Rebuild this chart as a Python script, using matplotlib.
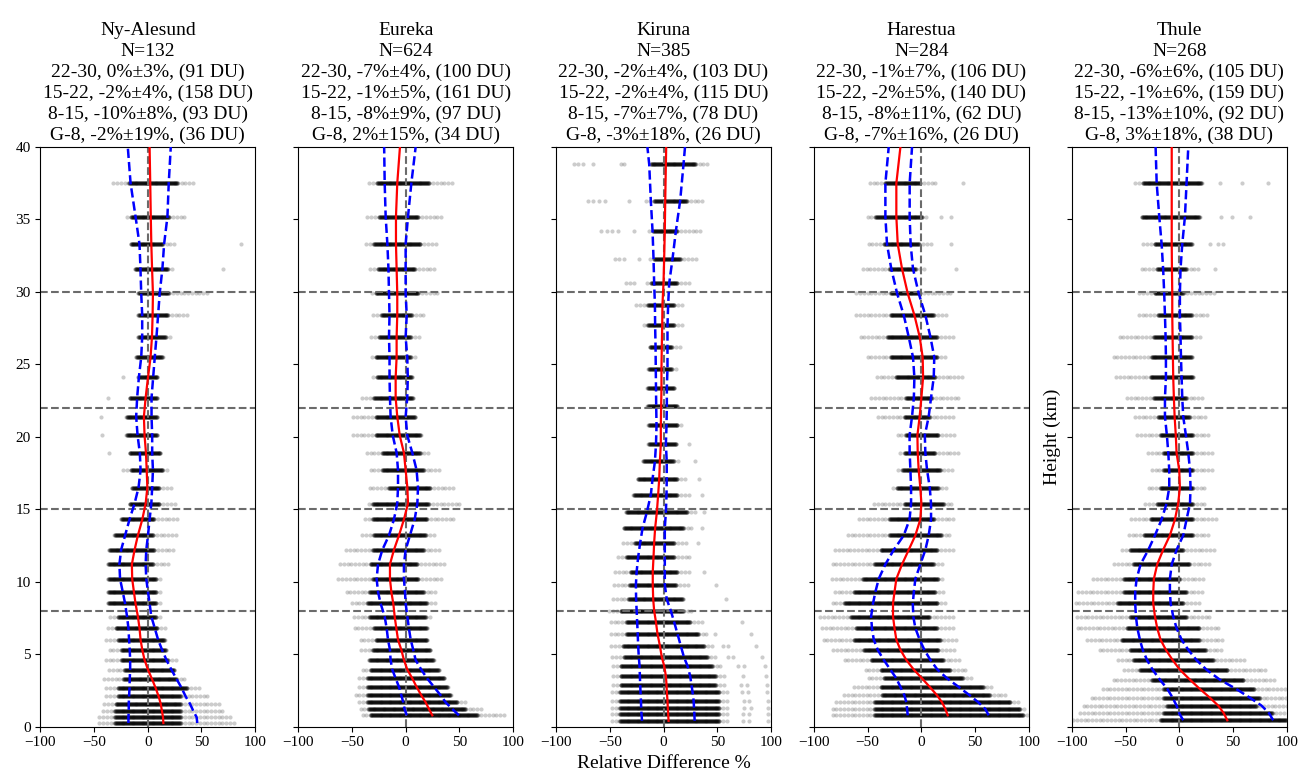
import numpy as np
import matplotlib.pyplot as plt

plt.rcParams['font.family'] = ['Liberation Serif', 'DejaVu Serif']

stations = ['Ny-Alesund', 'Eureka', 'Kiruna', 'Harestua', 'Thule']
n_profiles = [132, 624, 385, 284, 268]
layer_names = ['22-30', '15-22', '8-15', 'G-8']
layer_mean = [[0, -2, -10, -2], [-7, -1, -8, 2], [-2, -2, -7, -3], [-1, -2, -8, -7], [-6, -1, -13, 3]]
layer_std = [[3, 4, 8, 19], [4, 5, 9, 15], [4, 4, 7, 18], [7, 5, 11, 16], [6, 6, 10, 18]]
layer_du = [[91, 158, 93, 36], [100, 161, 97, 34], [103, 115, 78, 26], [106, 140, 62, 26], [105, 159, 92, 38]]
layer_bounds = [8, 15, 22, 30]
line_top = 40

# retrieval levels (km) above ~4 km are shared by most sites
upper_grid = [3.93, 4.6, 5.3, 6.0, 6.8, 7.6, 8.5, 9.3, 10.2, 11.2, 12.2, 13.2, 14.3, 15.4, 16.5,
              17.7, 18.9, 20.1, 21.4, 22.7, 24.1, 25.5, 26.9, 28.4, 29.9, 31.6, 33.3, 35.2, 37.5]

# ---- Ny-Alesund ----
ny_height = [0.25, 0.64, 1.08, 1.59, 2.09, 2.67, 3.29] + upper_grid
ny_median = [14.5, 14.2, 13.2, 12.0, 10.1, 7.3, 3.9, 0.2, -3.0, -5.1, -6.7, -7.7, -9.2, -11.4, -12.9, -14.5,
             -14.8, -12.3, -9.2, -5.1, -2.0, -0.4, -1.0, -1.7, -3.0, -3.6, -2.0, 0.2, 2.6, 3.9, 4.5, 4.8,
             4.0, 3.3, 2.8, 2.3, 1.7]
ny_lower = [-18, -18, -17.7, -17.7, -17.4, -17, -16.8, -16.4, -16.4, -16.8, -17.4, -18, -19.3, -21.1, -23.3,
            -25.8, -26.4, -24.8, -21.1, -17, -12.3, -8.6, -6.7, -7.4, -9.5, -10.8, -9.9, -8.3, -6.1, -5.2,
            -5.2, -6.1, -6.8, -7.7, -11.4, -16, -18.6]
ny_upper = [46.1, 45.5, 42.4, 39.2, 35.2, 31.5, 26.8, 22.0, 17.4, 13.3, 9.6, 6.5, 3.3, 1.7, 0.2, -1.4, -2.0,
            -1.4, 0.2, 1.7, 3.3, 4.1, 4.8, 4.1, 4.1, 3.5, 3.5, 5.0, 6.5, 8.1, 9.6, 11.1, 13.6, 15.2, 18.3,
            19.5, 21.4]
ny_core = [(-31, 31), (-31, 31), (-31, 31), (-30, 31), (-28, 31), (-28, 37), (-23, 27), (-22, 25), (-25, 19),
           (-25, 17), (-28, 16), (-30, 9), (-28, 8), (-37, 8), (-37, 8), (-37, 8), (-37, 5), (-36, 6),
           (-31, 5), (-25, 6), (-17, 11), (-15, 11), (-16, 14), (-17, 12), (-20, 9), (-20, 9), (-17, 9),
           (-9, 9), (-11, 14), (-9, 17), (-9, 19), (-9, 20), (-12, 19), (-16, 14), (-16, 20), (-18, 28)]
ny_tail = [(-47, 80), (-46, 78), (-44, 70), (-42, 66), (-41, 58), (-41, 48), (-41, 37), (-39, 28), (-39, 28),
           (-38, 17), (-39, 17), (-38, 16), (-37, 12), (-37, 12), (-37, 12), (-37, 13), (-37, 19), (-36, 25),
           (-31, 28), (-25, 30), (-17, 28), (-15, 23), (-25, 18), (-17, 12), (-20, 9), (-20, 9), (-17, 9),
           (-9, 9), (-11, 14), (-10, 22), (-9, 37), (-11, 55), (-12, 25), (-17, 25), (-20, 34), (-32, 44)]
ny_outliers = [(18.9, -36), (20.1, -43), (21.4, -44), (22.7, -37), (24.1, -23), (31.6, 70), (33.3, 87)]

# ---- Eureka ----
eu_height = [0.78, 1.22, 1.68, 2.16, 2.74, 3.33] + upper_grid
eu_median = [24.8, 21.7, 18.6, 14.6, 10.2, 6.2, 1.6, -1.6, -4.0, -7.1, -8.7, -10.2, -11.5, -13.3, -14.6,
             -14.6, -10.9, -6.2, -1.6, 2.2, 1.6, 0.0, -1.6, -5.5, -7.8, -9.3, -9.3, -8.4, -8.4, -7.8, -7.8,
             -8.4, -9.0, -9.0, -7.8, -5.3]
eu_lower = [1.0, -1.0, -2.2, -4.0, -6.2, -9.3, -12.4, -14.0, -14.6, -16.4, -17.7, -19.5, -23.3, -25.7, -27.0,
            -25.7, -21.7, -15.5, -10.9, -7.8, -7.1, -7.1, -8.4, -12.0, -14.0, -14.6, -15.0, -15.0, -15.5,
            -15.0, -15.5, -16.0, -17.0, -18.6, -19.5, -20.0]
eu_upper = [49.6, 43.4, 37.2, 32.6, 26.4, 20.0, 14.6, 9.3, 7.1, 4.7, 3.0, 1.6, 0.0, -0.6, -1.6, -1.6, 0.0,
            4.0, 8.4, 10.9, 11.5, 10.2, 6.2, 1.5, 0.0, 1.5, 2.0, 1.5, 0.0, 1.0, 0.0, 0.0, 0.0, 2.2, 5.3, 9.3]
eu_core = [(-33, 67), (-35, 56), (-36, 48), (-36, 42), (-36, 39), (-36, 36), (-33, 31), (-34, 26), (-31, 23),
           (-28, 20), (-30, 20), (-34, 19), (-36, 20), (-34, 17), (-31, 12), (-33, 11), (-31, 17), (-30, 19),
           (-31, 20), (-31, 22), (-16, 23), (-22, 17), (-22, 14), (-28, 14), (-28, 9), (-30, 7), (-27, 6),
           (-28, 5), (-25, 5), (-23, 6), (-28, 12), (-26, 9), (-30, 14), (-25, 12), (-27, 22)]
eu_tail = [(-42, 93), (-45, 73), (-45, 57), (-47, 45), (-45, 40), (-45, 36), (-42, 31), (-34, 26), (-42, 23),
           (-45, 20), (-48, 23), (-50, 25), (-53, 27), (-57, 29), (-64, 36), (-64, 36), (-57, 34), (-42, 29),
           (-40, 46), (-36, 51), (-36, 45), (-35, 33), (-36, 23), (-50, 15), (-50, 9), (-43, 7), (-32, 9),
           (-34, 11), (-33, 14), (-33, 17), (-34, 30), (-35, 27), (-37, 28), (-38, 34), (-37, 45)]
eu_outliers = []

# ---- Kiruna ----
ki_height = [0.4, 0.9, 1.3, 1.8, 2.4, 2.9, 3.5, 4.2, 4.8, 5.6, 6.4, 7.2, 8.0, 8.8, 9.8, 10.7, 11.7, 12.7,
             13.7, 14.8, 16.0, 17.1, 18.3, 19.5, 20.8, 22.1, 23.4, 24.7, 26.2, 27.7, 29.1, 30.6, 32.3, 34.2,
             36.3, 38.8]
ki_median = [4.7, 4.3, 4.0, 3.7, 3.1, 2.8, 2.2, 0.6, -1.6, -3.4, -5.6, -7.0, -8.7, -9.6, -10.0, -10.0, -9.3,
             -8.7, -7.8, -6.2, -5.0, -4.0, -3.4, -2.5, -2.5, -2.2, -1.9, -1.9, -1.6, -1.2, -1.0, 0.0, 0.6,
             1.2, 1.6, 2.2, 2.5]
ki_lower = [-20, -20.5, -20.8, -21, -21.4, -21.7, -22, -22.3, -23, -23.6, -24, -24.5, -25, -25.5, -25.7, -25,
            -23.6, -21.7, -19.5, -15.5, -11.8, -10.2, -8, -7, -6.5, -6.8, -7, -7.2, -7.4, -7.8, -8, -8.7,
            -9.3, -10.2, -11.8, -13.3, -15]
ki_upper = [29, 28.7, 28.4, 28, 27, 26, 24.8, 22.3, 19, 16, 13, 10, 6.8, 3, 1.2, 1.2, 1.2, 1.2, 1.2, 2.2,
            2.8, 3, 3, 2.2, 2.8, 3.1, 3.1, 3.7, 3.7, 3.7, 4.3, 5.3, 8.4, 11.5, 15.5, 18.6, 20]
ki_core = [(-41, 52), (-41, 52), (-41, 52), (-41, 52), (-41, 52), (-40, 49), (-40, 49), (-40, 46), (-37, 41),
           (-38, 38), (-35, 33), (-35, 25), (-40, 19), (-33, 18), (-32, 12), (-31, 13), (-35, 10), (-27, 10),
           (-37, 19), (-35, 22), (-28, 13), (-24, 13), (-19, 10), (-14, 12), (-14, 13), (-15, 13), (-15, 10),
           (-14, 8), (-13, 8), (-15, 10), (-15, 10), (-12, 13), (-9, 16), (-10, 13), (-9, 22), (-12, 30)]
ki_tail = [(-50, 61), (-50, 61), (-50, 61), (-50, 61), (-50, 60), (-50, 58), (-50, 56), (-49, 55), (-49, 48),
           (-50, 45), (-52, 42), (-52, 37), (-52, 27), (-50, 20), (-47, 25), (-46, 25), (-44, 25), (-40, 22),
           (-38, 27), (-35, 30), (-29, 24), (-24, 20), (-19, 14), (-14, 14), (-14, 19), (-15, 13), (-15, 10),
           (-14, 13), (-15, 16), (-20, 18), (-28, 19), (-18, 24), (-15, 30), (-15, 36), (-16, 38), (-15, 41)]
ki_outliers = [(0.4, 74), (0.4, 80), (0.4, 97), (0.9, 74), (0.9, 80), (0.9, 97), (1.3, 75), (1.3, 81),
               (1.3, 97), (1.8, 75), (1.8, 80), (1.8, 97), (2.4, 73), (2.4, 79), (2.4, 96), (2.9, 72),
               (2.9, 78), (2.9, 96), (3.5, 74), (3.5, 95), (4.2, 69), (4.2, 75), (4.2, 94), (4.8, 60),
               (4.8, 65), (4.8, 92), (5.6, 55), (5.6, 60), (5.6, 86), (6.4, 48), (6.4, 81), (7.2, 73),
               (8.8, 58), (9.8, 49), (10.7, 38), (12.7, 32), (13.7, 36), (14.8, 38), (16.0, 36), (17.1, 33),
               (18.3, 29), (19.5, 24), (30.6, -35), (30.6, -31), (30.6, -27), (32.3, -45), (32.3, -41),
               (32.3, -37), (32.3, -23), (34.2, -58), (34.2, -53), (34.2, -48), (34.2, -42), (34.2, -27),
               (36.3, -70), (36.3, -66), (36.3, -60), (36.3, -54), (36.3, -32), (38.8, -83), (38.8, -80),
               (38.8, -75), (38.8, -66), (38.8, -40), (38.8, -37)]

# ---- Harestua ----
ha_height = [0.78, 1.22, 1.68, 2.16, 2.74, 3.33] + upper_grid
ha_median = [24.5, 22.3, 19.2, 14.6, 7.8, 0.6, -7.0, -14.0, -19.5, -23.3, -25.0, -26.4, -26.4, -25.0, -23.3,
             -18.0, -11.8, -5.6, -1.0, 0.0, -1.0, -2.5, -3.4, -3.7, -1.6, 0.0, 1.6, 1.2, -1.6, -6.5, -12.7,
             -18.0, -22.0, -23.3, -23.3, -19.5]
ha_lower = [-12.7, -13.3, -14.0, -15.8, -19.5, -23.3, -28.8, -35.0, -40.6, -44.3, -46.0, -46.8, -45.0, -42.8,
            -39.7, -33.5, -25.7, -16.4, -11.0, -9.6, -9.6, -10.2, -10.9, -11.0, -8.7, -7.0, -6.5, -7.8,
            -11.8, -16.4, -22.6, -28.0, -32.0, -33.5, -33.5, -30.4]
ha_upper = [62.6, 59.5, 53.0, 45.0, 34.7, 24.0, 15.0, 8.4, 2.8, -1.6, -5.6, -7.5, -8.0, -7.0, -5.6, -1.0, 3.7,
            6.8, 9.0, 9.0, 7.8, 5.3, 3.7, 3.2, 6.8, 9.0, 11.5, 12.0, 8.4, 3.7, -2.5, -7.8, -10.0, -10.9,
            -10.9, -8.7]
ha_core = [(-44, 95), (-44, 92), (-44, 83), (-37, 64), (-38, 58), (-35, 39), (-38, 27), (-47, 21), (-54, 16),
           (-63, 18), (-61, 15), (-66, 8), (-72, 15), (-63, 13), (-55, 16), (-44, 12), (-38, 15), (-30, 19),
           (-30, 12), (-16, 21), (-23, 16), (-18, 18), (-16, 13), (-15, 16), (-16, 8), (-15, 10), (-24, 13),
           (-29, 15), (-32, 15), (-29, 12), (-29, -1), (-30, -5), (-35, -2), (-43, 1), (-34, -1)]
ha_tail = [(-85, 100), (-83, 98), (-81, 90), (-72, 80), (-63, 66), (-50, 48), (-54, 41), (-72, 38), (-83, 30),
           (-92, 32), (-95, 32), (-94, 30), (-83, 22), (-83, 21), (-86, 22), (-85, 22), (-80, 30), (-71, 27),
           (-58, 30), (-44, 28), (-29, 24), (-23, 30), (-21, 35), (-24, 30), (-41, 30), (-49, 36), (-43, 39),
           (-52, 25), (-58, 30), (-63, 25), (-63, 27), (-55, 5), (-51, 10), (-52, 7), (-49, 15)]
ha_outliers = [(31.6, 32), (33.3, 28), (35.2, 18), (35.2, 28), (37.5, 39)]

# ---- Thule ----
th_height = [0.44, 0.92, 1.45, 2.0, 2.6, 3.24] + upper_grid
th_median = [44.7, 41.5, 36.3, 28.5, 19.2, 10.0, 0.6, -6.2, -12.4, -17.4, -20.5, -22.6, -24.2, -24.2, -23.6,
             -20.5, -15.0, -8.7, -4.0, -1.0, 0.6, 0.0, -2.5, -3.2, -4.3, -5.0, -5.6, -5.9, -6.2, -6.5, -6.5,
             -6.8, -7.0, -7.0, -7.0, -7.0]
th_lower = [3.7, 0.0, -2.5, -6.2, -11.0, -18.0, -24.8, -30.0, -34.0, -36.6, -39.0, -40.3, -41.0, -41.0, -39.7,
            -36.0, -28.8, -22.6, -16.4, -11.8, -9.3, -9.3, -10.2, -11.5, -13.3, -13.3, -12.4, -12.4, -12.7,
            -13.3, -14.0, -15.0, -16.4, -18.6, -21.0, -22.0]
th_upper = [87.4, 83.7, 76.6, 65.7, 53.0, 37.8, 25.4, 16.0, 8.4, 2.2, -2.5, -5.6, -8.0, -8.7, -8.7, -7.0, -2.5,
            3.7, 6.8, 10.0, 10.5, 10.0, 8.4, 6.2, 3.7, 2.8, 2.2, 1.6, 1.2, 0.6, 0.6, 1.2, 2.8, 5.3, 6.8, 8.4]
th_core = [(-18, 100), (-15, 87), (-12, 72), (-15, 75), (-15, 70), (-26, 60), (-37, 45), (-43, 32), (-46, 25),
           (-54, 19), (-49, 19), (-46, 7), (-58, 4), (-52, 7), (-52, 1), (-43, 10), (-46, 4), (-33, 13),
           (-27, 13), (-21, 13), (-18, 13), (-15, 13), (-15, 13), (-18, 13), (-20, 10), (-24, 7), (-27, 13),
           (-26, 12), (-24, 12), (-20, 12), (-23, 4), (-21, 7), (-23, 12), (-35, 19), (-34, 21)]
th_tail = [(-99, 100), (-95, 100), (-89, 100), (-83, 100), (-74, 100), (-64, 90), (-52, 81), (-58, 61),
           (-74, 42), (-86, 41), (-95, 38), (-98, 30), (-98, 19), (-94, 24), (-81, 25), (-63, 28), (-55, 33),
           (-50, 28), (-46, 35), (-33, 25), (-30, 25), (-26, 31), (-30, 31), (-40, 27), (-44, 25), (-50, 21),
           (-61, 13), (-63, 12), (-56, 21), (-40, 28), (-38, 35), (-38, 19), (-36, 12), (-37, 21), (-43, 22)]
th_outliers = [(31.6, 33), (33.3, 29), (33.3, 36), (33.3, 41), (35.2, 39), (35.2, 49), (35.2, 66),
               (37.5, 38), (37.5, 58), (37.5, 83)]

profiles = [
    (ny_height, ny_median, ny_lower, ny_upper, ny_core, ny_tail, ny_outliers),
    (eu_height, eu_median, eu_lower, eu_upper, eu_core, eu_tail, eu_outliers),
    (ki_height, ki_median, ki_lower, ki_upper, ki_core, ki_tail, ki_outliers),
    (ha_height, ha_median, ha_lower, ha_upper, ha_core, ha_tail, ha_outliers),
    (th_height, th_median, th_lower, th_upper, th_core, th_tail, th_outliers),
]


def level_points(heights, core, tail, outliers):
    # spread the individual differences over the observed range at each level:
    # densely inside the core, sparsely out in the tails
    xs, ys = [], []
    for h, (c_lo, c_hi), (t_lo, t_hi) in zip(heights, core, tail):
        dense = np.arange(c_lo, c_hi + 0.01, 0.3)
        left = np.arange(c_lo - 3.5, t_lo - 0.01, -3.5)
        right = np.arange(c_hi + 3.5, t_hi + 0.01, 3.5)
        pts = np.concatenate([dense, left, right])
        xs.append(pts)
        ys.append(np.full(pts.size, h))
    for h, x in outliers:
        xs.append(np.array([x]))
        ys.append(np.array([h]))
    return np.concatenate(xs), np.concatenate(ys)


fig, axes = plt.subplots(1, 5, figsize=(13.01, 7.78), dpi=100, sharey=True)
fig.subplots_adjust(left=0.031, right=0.989, bottom=0.066, top=0.811, wspace=0.2)

for i, ax in enumerate(axes):
    height, median, lower, upper, core, tail, outliers = profiles[i]
    assert len(core) == len(tail) == len(height)
    assert len(median) == len(lower) == len(upper) == len(height) + 1

    x, y = level_points(height, core, tail, outliers)
    ax.scatter(x, y, s=9, c='k', alpha=0.2, linewidths=0, zorder=1)

    for b in layer_bounds:
        ax.axhline(b, color='0.42', ls='--', lw=1.5, zorder=2)
    ax.axvline(0, color='0.42', ls='--', lw=1.5, zorder=2)

    line_h = height + [line_top]
    ax.plot(median, line_h, color='red', lw=1.6, zorder=4)
    ax.plot(lower, line_h, color='blue', ls='--', lw=1.8, zorder=3)
    ax.plot(upper, line_h, color='blue', ls='--', lw=1.8, zorder=3)

    ax.set_xlim(-100, 100)
    ax.set_ylim(0, 40)
    ax.set_xticks([-100, -50, 0, 50, 100])
    ax.set_yticks(range(0, 41, 5))
    ax.tick_params(labelsize=11)

    title = [stations[i], 'N=%d' % n_profiles[i]]
    for name, m, s, du in zip(layer_names, layer_mean[i], layer_std[i], layer_du[i]):
        title.append('%s, %d%%\u00b1%d%%, (%d DU)' % (name, m, s, du))
    ax.set_title('\n'.join(title), fontsize=14, linespacing=1.28, pad=5)

axes[2].set_xlabel('Relative Difference %', fontsize=14)
axes[4].set_ylabel('Height (km)', fontsize=14)

fig.savefig('out.png', dpi=100)
